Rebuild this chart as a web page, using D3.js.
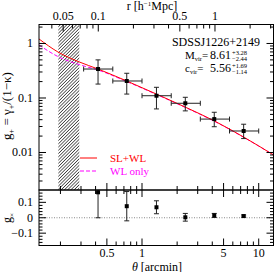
<!DOCTYPE html>
<html>
<head>
<meta charset="utf-8">
<script src="https://cdn.jsdelivr.net/npm/d3@7"></script>
<style>
body { margin: 0; background: #fff; }
text { font-family: "Liberation Serif", "DejaVu Serif", serif; fill: #000; }
</style>
</head>
<body>
<script>
// binned tangential shear (theta in arcmin)
var theta   = [0.42, 0.74, 1.33, 2.35, 4.16, 7.43];
var binLo   = [0.316, 0.562, 1.0, 1.78, 3.16, 5.62];
var binHi   = [0.562, 1.0, 1.78, 3.16, 5.62, 10.0];
var gPlus   = [0.34, 0.205, 0.11, 0.08, 0.041, 0.0248];
var gPlusLo = [0.18, 0.118, 0.063, 0.058, 0.0297, 0.018];
var gPlusHi = [0.50, 0.284, 0.157, 0.103, 0.0547, 0.033];

// cross shear (lower panel)
var gCross    = [0.165, 0.075, 0.068, 0.003, 0.015, 0.011];
var gCrossErr = [0.165, 0.095, 0.042, 0.025, 0.013, 0.007];

// model curves, sampled by eye
var modelTheta = [0.131, 0.19, 0.29, 0.42, 0.74, 1.33, 2.35, 4.16, 7.43, 13.4];
var slwl       = [1.21, 0.70, 0.458, 0.34, 0.205, 0.118, 0.068, 0.038, 0.0192, 0.009];
var wlOnly     = [0.94, 0.577, 0.41, 0.326, 0.2, 0.116, 0.067, 0.0375, 0.019, 0.009];

// hatched (excluded) region
var maskTheta = [0.192, 0.290];

// tick labels
var xLabels = [0.5, 1, 5, 10];
var rLabels = [0.05, 0.1, 0.5, 1];
var yLabels = [0.01, 0.1, 1];
var resLabels = [-0.1, 0, 0.1];
var resMinor = [-0.16, -0.14, -0.12, -0.08, -0.06, -0.04, -0.02, 0.02, 0.04, 0.06, 0.08, 0.12, 0.14, 0.16];

var rPerArcmin = 0.237; // h^-1 Mpc per arcmin at the cluster

var width = 274, height = 272;
var left = 39, right = 273.5,
    top1 = 24.5, bot1 = 190, bot2 = 245.5;

var svg = d3.select("body").append("svg")
    .attr("width", width)
    .attr("height", height);

var x = d3.scaleLog().domain([0.131, 13.39]).range([left, right]);
var r = d3.scaleLog().domain([0.131 * rPerArcmin, 13.39 * rPerArcmin]).range([left, right]);
var y = d3.scaleLog().domain([0.00205, 2.23]).range([bot1, top1]);
var yr = d3.scaleLinear().domain([-0.18, 0.18]).range([bot2, bot1]);

// hatch pattern
var defs = svg.append("defs");
defs.append("pattern")
    .attr("id", "hatch")
    .attr("patternUnits", "userSpaceOnUse")
    .attr("width", 2.3).attr("height", 2.3)
    .attr("patternTransform", "rotate(45)")
    .append("line")
    .attr("x1", 0).attr("y1", 0).attr("x2", 0).attr("y2", 2.3)
    .attr("stroke", "#111").attr("stroke-width", 1.25);
defs.append("clipPath").attr("id", "clipMain")
    .append("rect").attr("x", left).attr("y", top1).attr("width", right - left).attr("height", bot1 - top1);
defs.append("clipPath").attr("id", "clipRes")
    .append("rect").attr("x", left).attr("y", bot1).attr("width", right - left).attr("height", bot2 - bot1);

svg.append("rect")
    .attr("x", x(maskTheta[0])).attr("y", top1)
    .attr("width", x(maskTheta[1]) - x(maskTheta[0]))
    .attr("height", bot1 - top1)
    .attr("fill", "url(#hatch)");

// model lines
var mainG = svg.append("g").attr("clip-path", "url(#clipMain)");
var line = function(vals) {
    return d3.line()
        .x(function(d, i) { return x(modelTheta[i]); })
        .y(function(d) { return y(d); })
        .curve(d3.curveMonotoneX)(vals);
};
mainG.append("path").attr("d", line(wlOnly))
    .attr("fill", "none").attr("stroke", "#ff00ff").attr("stroke-width", 1)
    .attr("stroke-dasharray", "4,2");
mainG.append("path").attr("d", line(slwl))
    .attr("fill", "none").attr("stroke", "#ff0000").attr("stroke-width", 1);

// error bars + points, upper panel
var cap = 2.5;
theta.forEach(function(t, i) {
    var cx = x(t), cy = y(gPlus[i]);
    var g = mainG.append("g").attr("stroke", "#222").attr("stroke-width", 1);
    g.append("line").attr("x1", x(binLo[i])).attr("x2", x(binHi[i])).attr("y1", cy).attr("y2", cy);
    g.append("line").attr("x1", x(binLo[i])).attr("x2", x(binLo[i])).attr("y1", cy - cap).attr("y2", cy + cap);
    g.append("line").attr("x1", x(binHi[i])).attr("x2", x(binHi[i])).attr("y1", cy - cap).attr("y2", cy + cap);
    g.append("line").attr("x1", cx).attr("x2", cx).attr("y1", y(gPlusLo[i])).attr("y2", y(gPlusHi[i]));
    g.append("line").attr("x1", cx - cap).attr("x2", cx + cap).attr("y1", y(gPlusLo[i])).attr("y2", y(gPlusLo[i]));
    g.append("line").attr("x1", cx - cap).attr("x2", cx + cap).attr("y1", y(gPlusHi[i])).attr("y2", y(gPlusHi[i]));
    mainG.append("rect").attr("x", cx - 2).attr("y", cy - 2).attr("width", 4).attr("height", 4).attr("fill", "#000");
});

// lower panel
var resG = svg.append("g").attr("clip-path", "url(#clipRes)");
resG.append("line")
    .attr("x1", left).attr("x2", right).attr("y1", yr(0)).attr("y2", yr(0))
    .attr("stroke", "#888").attr("stroke-width", 1).attr("stroke-dasharray", "1,1.5");
theta.forEach(function(t, i) {
    var cx = x(t), cy = yr(gCross[i]);
    var lo = yr(gCross[i] - gCrossErr[i]), hi = yr(gCross[i] + gCrossErr[i]);
    var g = resG.append("g").attr("stroke", "#222").attr("stroke-width", 1);
    g.append("line").attr("x1", cx).attr("x2", cx).attr("y1", lo).attr("y2", hi);
    g.append("line").attr("x1", cx - cap).attr("x2", cx + cap).attr("y1", lo).attr("y2", lo);
    g.append("line").attr("x1", cx - cap).attr("x2", cx + cap).attr("y1", hi).attr("y2", hi);
    resG.append("rect").attr("x", cx - 2).attr("y", cy - 2).attr("width", 4).attr("height", 4).attr("fill", "#000");
});

// frames
svg.append("rect").attr("x", left).attr("y", top1).attr("width", right - left).attr("height", bot1 - top1)
    .attr("fill", "none").attr("stroke", "#000").attr("stroke-width", 1);
svg.append("rect").attr("x", left).attr("y", bot1).attr("width", right - left).attr("height", bot2 - bot1)
    .attr("fill", "none").attr("stroke", "#000").attr("stroke-width", 1);

// ticks, all pointing inward
var tickG = svg.append("g").attr("stroke", "#000").attr("stroke-width", 1);
function isMajor(v) {
    var m = v / Math.pow(10, Math.floor(Math.log10(v) + 1e-9));
    return Math.abs(m - 1) < 1e-6 || Math.abs(m - 5) < 1e-6;
}
function hTicks(scale, vals, yy, dir, majorTest) {
    vals.forEach(function(v) {
        var len = majorTest(v) ? 7 : 4;
        tickG.append("line").attr("x1", scale(v)).attr("x2", scale(v))
            .attr("y1", yy).attr("y2", yy + dir * len);
    });
}
function vTicks(scale, vals, xx, dir, majorTest) {
    vals.forEach(function(v) {
        var len = majorTest(v) ? 7 : 3.5;
        tickG.append("line").attr("y1", scale(v)).attr("y2", scale(v))
            .attr("x1", xx).attr("x2", xx + dir * len);
    });
}
var xt = x.ticks().filter(function(v) { return x(v) > left + 0.5 && x(v) < right - 0.5; });
var rt = r.ticks().filter(function(v) { return r(v) > left + 0.5 && r(v) < right - 0.5; });
var yt = y.ticks().filter(function(v) { return y(v) > top1 + 0.5 && y(v) < bot1 - 0.5; });
var yMajor = function(v) { return yLabels.some(function(l) { return Math.abs(l - v) < 1e-9; }); };
var resMajor = function(v) { return resLabels.some(function(l) { return Math.abs(l - v) < 1e-9; }); };

hTicks(r, rt, top1, 1, isMajor);
hTicks(x, xt, bot1, -1, isMajor);
hTicks(x, xt, bot1, 1, isMajor);
hTicks(x, xt, bot2, -1, isMajor);
vTicks(y, yt, left, 1, yMajor);
vTicks(y, yt, right, -1, yMajor);
var rv = resLabels.concat(resMinor);
vTicks(yr, rv, left, 1, resMajor);
vTicks(yr, rv, right, -1, resMajor);

// tick labels
var fmt = function(v) { return String(v).replace("-", "\u2212"); };
svg.append("g").selectAll("text").data(xLabels).enter().append("text")
    .attr("x", function(d) { return x(d); }).attr("y", 257)
    .attr("text-anchor", "middle").attr("font-size", 12).text(fmt);
svg.append("g").selectAll("text").data(rLabels).enter().append("text")
    .attr("x", function(d) { return r(d); }).attr("y", 20)
    .attr("text-anchor", "middle").attr("font-size", 12).text(fmt);
svg.append("g").selectAll("text").data(yLabels).enter().append("text")
    .attr("x", 33).attr("y", function(d) { return y(d) + 4; })
    .attr("text-anchor", "end").attr("font-size", 12).text(fmt);
svg.append("g").selectAll("text").data(resLabels).enter().append("text")
    .attr("x", 33).attr("y", function(d) { return yr(d) + 4; })
    .attr("text-anchor", "end").attr("font-size", 12).text(fmt);

// axis titles
var tt = svg.append("text").attr("x", 152).attr("y", 10).attr("text-anchor", "middle").attr("font-size", 12);
tt.append("tspan").text("r  [h");
tt.append("tspan").attr("font-size", 7).attr("dy", -4).text("\u22121");
tt.append("tspan").attr("dy", 4).text("Mpc]");

var bt = svg.append("text").attr("x", 157).attr("y", 270.5).attr("text-anchor", "middle").attr("font-size", 12);
bt.append("tspan").attr("font-style", "italic").text("\u03b8");
bt.append("tspan").text(" [arcmin]");

var yl = svg.append("text").attr("transform", "translate(11,106) rotate(-90)")
    .attr("text-anchor", "middle").attr("font-size", 13);
yl.append("tspan").text("g");
yl.append("tspan").attr("font-size", 8).attr("dy", 3).text("+");
yl.append("tspan").attr("dy", -3).text(" = \u03b3");
yl.append("tspan").attr("font-size", 8).attr("dy", 3).text("+");
yl.append("tspan").attr("dy", -3).text("/(1\u2212\u03ba)");

var yl2 = svg.append("text").attr("transform", "translate(11,218) rotate(-90)")
    .attr("text-anchor", "middle").attr("font-size", 12);
yl2.append("tspan").text("g");
yl2.append("tspan").attr("font-size", 7).attr("dy", 3).text("\u00d7");

// legend
svg.append("line").attr("x1", 80).attr("x2", 97).attr("y1", 158).attr("y2", 158)
    .attr("stroke", "#ff0000").attr("stroke-width", 1);
svg.append("text").attr("x", 110).attr("y", 162).attr("font-size", 11).style("fill", "#ff0000").text("SL+WL");
svg.append("line").attr("x1", 80).attr("x2", 97).attr("y1", 171).attr("y2", 171)
    .attr("stroke", "#ff00ff").attr("stroke-width", 1).attr("stroke-dasharray", "4,2");
svg.append("text").attr("x", 110).attr("y", 175).attr("font-size", 11).style("fill", "#ff00ff").text("WL only");

// cluster name and fit values
svg.append("text").attr("x", 260).attr("y", 45.5).attr("text-anchor", "end").attr("font-size", 12).text("SDSSJ1226+2149");

function fitLine(yy, sym, val, up, dn) {
    var t = svg.append("text").attr("x", 185).attr("y", yy).attr("font-size", 11);
    t.append("tspan").text(sym);
    t.append("tspan").attr("font-size", 6.5).attr("dy", 2).text("vir");
    t.append("tspan").attr("dy", -2).text("=");
    svg.append("text").attr("x", 210).attr("y", yy).attr("font-size", 12).text(val);
    svg.append("text").attr("x", 232).attr("y", yy - 4).attr("font-size", 6.5).text(up);
    svg.append("text").attr("x", 232).attr("y", yy + 2.5).attr("font-size", 6.5).text(dn);
}
fitLine(58.5, "M", "8.61", "+3.28", "\u22122.44");
fitLine(71.5, "c", "5.56", "+1.69", "\u22121.14");
</script>
</body>
</html>
